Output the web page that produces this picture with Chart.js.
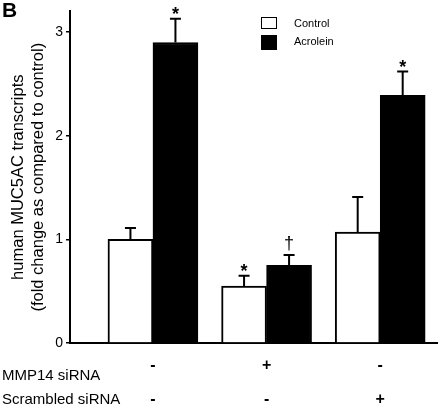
<!DOCTYPE html>
<html>
<head>
<meta charset="utf-8">
<title>MUC5AC transcripts</title>
<script src="https://cdn.jsdelivr.net/npm/chart.js"></script>
<style>
  body { margin: 0; background: #fff; }
  #wrap { position: relative; width: 438px; height: 408px; }
  #panel { position: absolute; left: 2px; top: -2px; font: bold 21px "Liberation Sans", Arial, sans-serif; }
  .leg { position: absolute; left: 261px; font: 11px "Liberation Sans", Arial, sans-serif; color: #000; }
  .leg span.box { position: absolute; left: 0; width: 16px; box-sizing: border-box; border: 1.5px solid #000; }
  .leg span.txt { position: absolute; left: 33px; white-space: nowrap; }
</style>
</head>
<body>
<div id="wrap">
  <canvas id="chart" width="438" height="408"></canvas>
  <div id="panel">B</div>
  <div id="legend"></div>
</div>
<script>
// treatment rows shown under the x axis
const rowLabels = ['MMP14 siRNA', 'Scrambled siRNA'];
const mmp14 = ['-', '+', '-'];
const scrambled = ['-', '-', '+'];

// fold change vs control, upper error bar tops
const controlValues = [1.00, 0.55, 1.07];
const controlTops = [1.11, 0.65, 1.41];
const acroleinValues = [2.90, 0.75, 2.39];
const acroleinTops = [3.13, 0.85, 2.62];
const controlMarks = ['', '*', ''];
const acroleinMarks = ['*', '\u2020', '*'];

const yTicks = [0, 1, 2, 3];
const FONT = '"Liberation Sans", Arial, sans-serif';

function pts(vals) {
  return vals.map((v, i) => ({ x: i + 1, y: v }));
}

const datasets = [
  { label: 'Control', data: pts(controlValues), tops: controlTops, marks: controlMarks,
    backgroundColor: '#fff', borderColor: '#000', borderWidth: 2 },
  { label: 'Acrolein', data: pts(acroleinValues), tops: acroleinTops, marks: acroleinMarks,
    backgroundColor: '#000', borderColor: '#000', borderWidth: 2 }
];

// legend as plain html
const leg = document.getElementById('legend');
datasets.forEach((d, i) => {
  const row = document.createElement('div');
  row.className = 'leg';
  row.style.top = (i === 0 ? 17 : 35) + 'px';
  row.innerHTML = '<span class="box" style="height:' + (i === 0 ? 12 : 15) + 'px;background:' + d.backgroundColor + '"></span>' +
    '<span class="txt">' + d.label + '</span>';
  leg.appendChild(row);
});

const errorBars = {
  id: 'errorBars',
  afterDatasetsDraw(chart) {
    const ctx = chart.ctx;
    const y = chart.scales.y;
    ctx.save();
    ctx.strokeStyle = '#000';
    ctx.fillStyle = '#000';
    ctx.lineWidth = 2;
    chart.data.datasets.forEach((ds, di) => {
      chart.getDatasetMeta(di).data.forEach((bar, i) => {
        const capY = y.getPixelForValue(ds.tops[i]);
        ctx.beginPath();
        ctx.moveTo(bar.x, bar.y);
        ctx.lineTo(bar.x, capY);
        ctx.moveTo(bar.x - 5.5, capY);
        ctx.lineTo(bar.x + 5.5, capY);
        ctx.stroke();
        const m = ds.marks[i];
        if (m) {
          ctx.textAlign = 'center';
          ctx.textBaseline = 'alphabetic';
          if (m === '*') {
            ctx.font = 'bold 18px ' + FONT;
            ctx.fillText(m, bar.x, capY + 1);
          } else {
            ctx.font = '18px ' + FONT;
            ctx.fillText(m, bar.x, capY - 6);
          }
        }
      });
    });
    // row labels for the siRNA treatments
    const x = chart.scales.x;
    ctx.font = '15px ' + FONT;
    ctx.textAlign = 'left';
    ctx.textBaseline = 'middle';
    ctx.fillText(rowLabels[0], 2, x.top + 33);
    ctx.fillText(rowLabels[1], 2, x.top + 57);
    ctx.restore();
  }
};

new Chart(document.getElementById('chart'), {
  type: 'bar',
  data: { datasets: datasets },
  options: {
    responsive: false,
    animation: false,
    layout: { padding: { top: 7, right: 1, left: 0, bottom: 0 } },
    plugins: { legend: { display: false }, tooltip: { enabled: false } },
    datasets: { bar: { barThickness: 45, grouped: true } },
    scales: {
      x: {
        type: 'linear',
        offset: false,
        min: 0.27,
        max: 3.5,
        afterBuildTicks: s => { s.ticks = [1, 2, 3].map(v => ({ value: v })); },
        afterFit: s => { s.height = 65; },
        grid: { display: false, offset: false },
        border: { display: true, color: '#000', width: 2 },
        ticks: {
          autoSkip: false,
          maxRotation: 0,
          padding: -3,
          color: '#000',
          font: { family: FONT, size: 16, weight: 'bold', lineHeight: 2.15 },
          callback: v => [mmp14[v - 1], scrambled[v - 1]]
        }
      },
      y: {
        min: 0,
        max: 3.2,
        afterBuildTicks: s => { s.ticks = yTicks.map(v => ({ value: v })); },
        afterFit: s => { s.width = 70; },
        grid: { drawOnChartArea: false, drawTicks: true, tickLength: 4, color: '#000', lineWidth: 1.5 },
        border: { display: true, color: '#000', width: 2 },
        ticks: { color: '#000', padding: 3, font: { family: FONT, size: 14 } },
        title: {
          display: true,
          text: ['human MUC5AC transcripts', '(fold change as compared to control)'],
          color: '#000',
          font: { family: FONT, size: 16.5, lineHeight: 1.212 },
          padding: { top: 8, bottom: 0 }
        }
      }
    }
  },
  plugins: [errorBars]
});
</script>
</body>
</html>
